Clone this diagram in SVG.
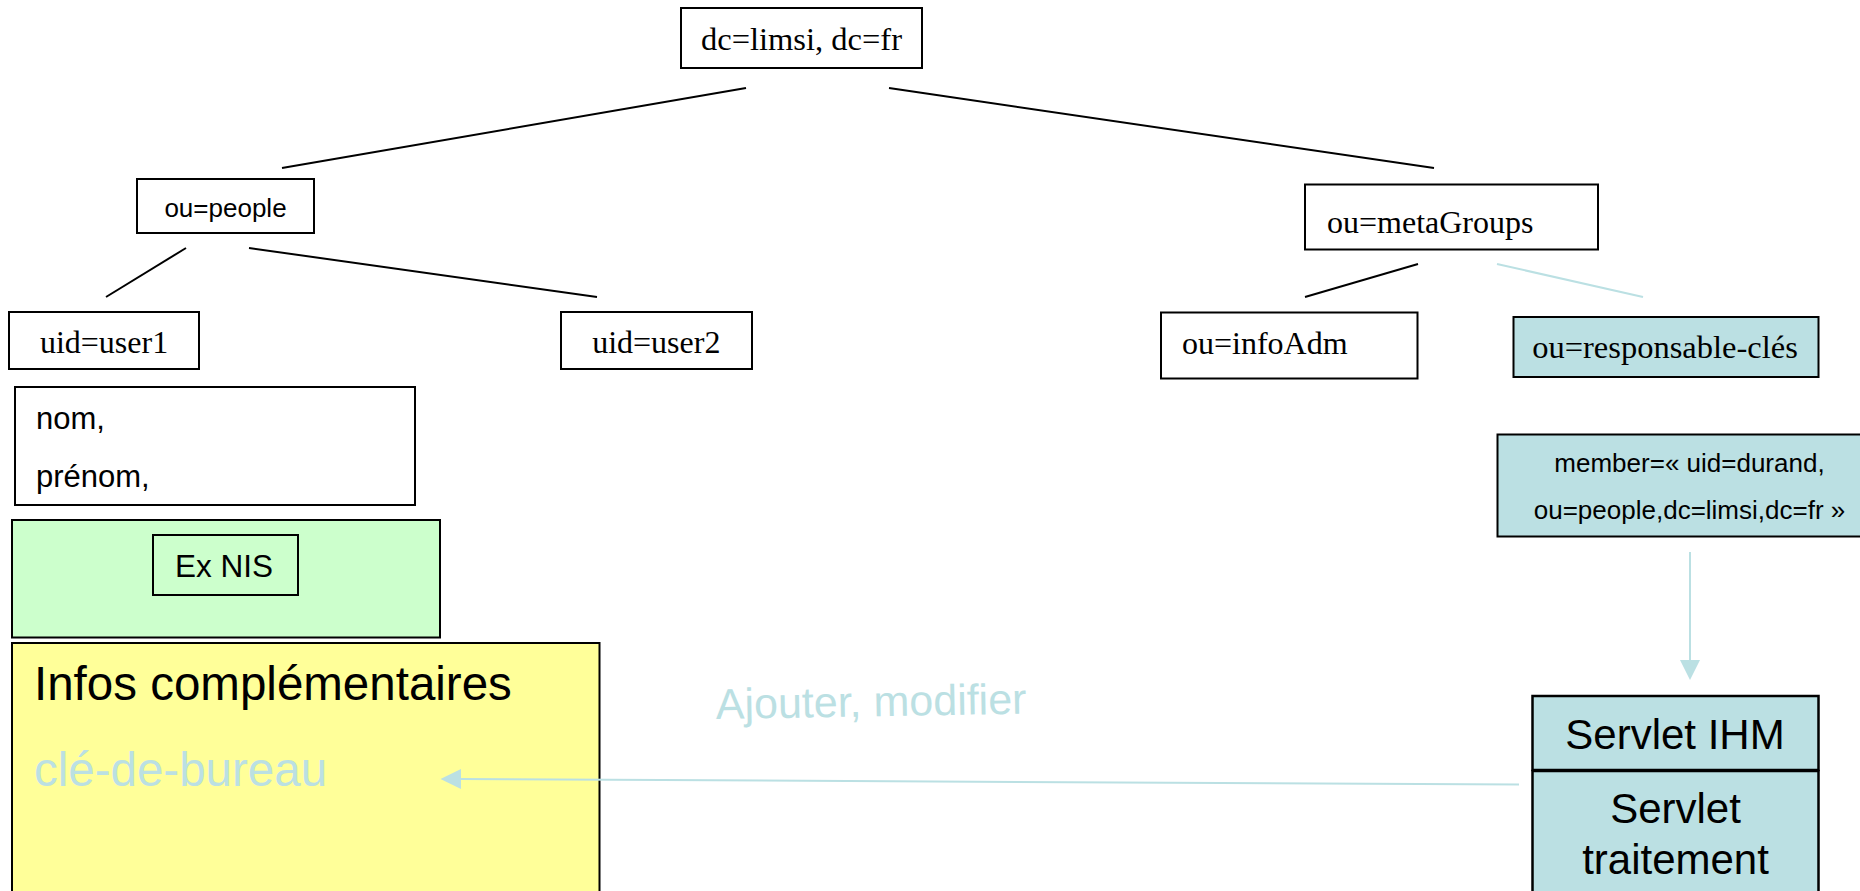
<svg xmlns="http://www.w3.org/2000/svg" width="1860" height="891" viewBox="0 0 1860 891">
<style>
.box{fill:#ffffff;stroke:#000000;stroke-width:2}
.blue{fill:#bbe0e3;stroke:#000000;stroke-width:2}
.green{fill:#ccffcc;stroke:#000000;stroke-width:2}
.yellow{fill:#ffff99;stroke:#000000;stroke-width:2}
.serif{font-family:"Liberation Serif","Times New Roman",serif;font-size:32px;fill:#000000}
.sans{font-family:"Liberation Sans",Arial,sans-serif;fill:#000000}
.edge{stroke:#000000;stroke-width:2;fill:none}
.ledge{stroke:#bbe0e3;stroke-width:2;fill:none}
.lb{fill:#bbe0e3}
</style>
<g id="root">
<rect class="box" x="681" y="8" width="241" height="60"/>
<text class="serif" x="801.5" y="50" font-size="32.5" text-anchor="middle" style="font-size:32.5px">dc=limsi, dc=fr</text>
</g>
<g id="people">
<rect class="box" x="137" y="179" width="177" height="54"/>
<text class="sans" x="225.5" y="216.7" font-size="26" text-anchor="middle">ou=people</text>
</g>
<g id="user1">
<rect class="box" x="9" y="312" width="190" height="57"/>
<text class="serif" x="104" y="353.3" text-anchor="middle">uid=user1</text>
</g>
<g id="user2">
<rect class="box" x="561" y="312" width="191" height="57"/>
<text class="serif" x="656.3" y="353.3" text-anchor="middle">uid=user2</text>
</g>
<g id="attrs">
<rect class="box" x="15" y="387" width="400" height="118"/>
<text class="sans" x="36" y="429.3" font-size="31">nom,</text>
<text class="sans" x="36" y="486.7" font-size="31">prénom,</text>
</g>
<g id="exnis">
<rect class="green" x="12" y="520" width="428" height="117.5"/>
<rect class="green" x="153" y="535" width="145" height="60"/>
<text class="sans" x="224" y="576.7" font-size="31.5" text-anchor="middle">Ex NIS</text>
</g>
<g id="infos">
<rect class="yellow" x="12" y="643" width="587.5" height="260"/>
<text class="sans" x="34" y="700" font-size="47.5">Infos complémentaires</text>
<text class="sans" x="34" y="785.7" font-size="47.5" style="fill:#bbe0e3">clé-de-bureau</text>
</g>
<g id="ajouter">
<text class="sans" x="716" y="719" font-size="43" style="fill:#bbe0e3" transform="rotate(-1 716 719)">Ajouter, modifier</text>
</g>
<g id="metaGroups">
<rect class="box" x="1305" y="184.5" width="293" height="65"/>
<text class="serif" x="1327" y="233.3">ou=metaGroups</text>
</g>
<g id="infoAdm">
<rect class="box" x="1161" y="312.5" width="256.5" height="66"/>
<text class="serif" x="1182" y="354">ou=infoAdm</text>
</g>
<g id="responsable">
<rect class="blue" x="1513.5" y="317" width="305" height="60"/>
<text class="serif" x="1665" y="358.3" text-anchor="middle" style="font-size:32.5px">ou=responsable-clés</text>
</g>
<g id="member">
<rect class="blue" x="1497.5" y="434.5" width="385" height="102"/>
<text class="sans" x="1689.5" y="471.7" font-size="26" text-anchor="middle">member=« uid=durand,</text>
<text class="sans" x="1689.5" y="519.3" font-size="26" text-anchor="middle">ou=people,dc=limsi,dc=fr »</text>
</g>
<g id="servletIHM">
<rect class="blue" x="1532.5" y="696" width="286" height="74" style="stroke-width:2.5"/>
<text class="sans" x="1675" y="749.3" font-size="42" text-anchor="middle">Servlet IHM</text>
</g>
<g id="servletTraitement">
<rect class="blue" x="1532.5" y="771" width="286" height="140" style="stroke-width:2.5"/>
<text class="sans" x="1675.5" y="823.3" font-size="42" text-anchor="middle">Servlet</text>
<text class="sans" x="1675.5" y="874.3" font-size="42" text-anchor="middle">traitement</text>
</g>
<g id="connectors">
<line class="edge" x1="746" y1="88" x2="282" y2="168"/>
<line class="edge" x1="889" y1="88" x2="1434" y2="168"/>
<line class="edge" x1="186" y1="248" x2="106" y2="297"/>
<line class="edge" x1="249" y1="248" x2="597" y2="297"/>
<line class="edge" x1="1418" y1="264" x2="1305" y2="297"/>
<line class="ledge" x1="1497" y1="264" x2="1643" y2="297"/>
<line class="ledge" x1="1690" y1="552" x2="1690" y2="662"/>
<polygon class="lb" points="1680,660 1700,660 1690,680"/>
<line class="ledge" x1="1519" y1="784.5" x2="459" y2="779"/>
<polygon class="lb" points="461,769 461,789 440.5,779"/>
</g>
</svg>
